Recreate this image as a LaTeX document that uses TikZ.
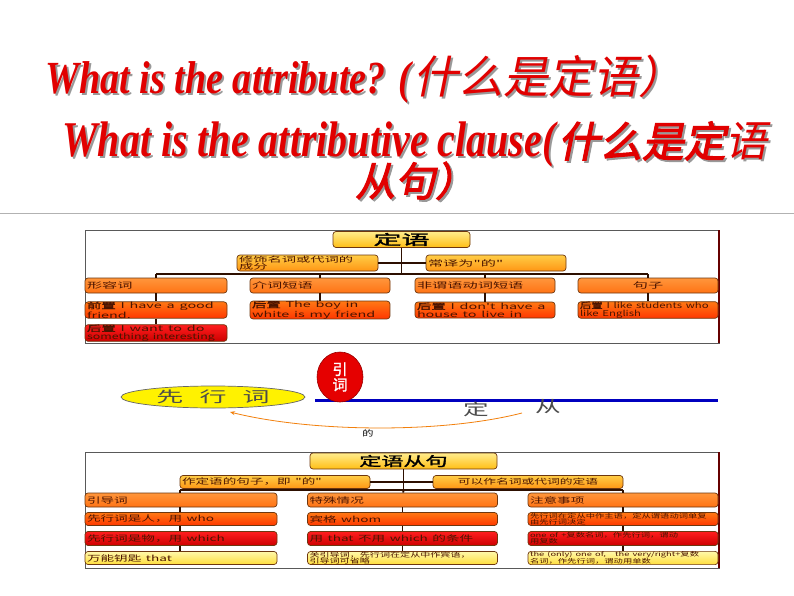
\documentclass[tikz,border=0pt]{standalone}
\usepackage{fontspec}
\setmainfont{Liberation Serif}
\newfontfamily\cjk{Noto Sans CJK SC}
\newfontfamily\cjkit[FakeSlant=0.2]{Noto Sans CJK SC}
\newfontfamily\cjkbi[FakeSlant=0.2,FakeBold=2.5]{Noto Sans CJK SC}
\newfontfamily\cjkb[FakeBold=1.5]{Noto Sans CJK SC}
\usetikzlibrary{shapes.geometric,arrows.meta}
\definecolor{titred}{RGB}{225,0,0}
\definecolor{boxbd}{RGB}{110,55,15}
\definecolor{boxtx}{RGB}{75,20,0}
\definecolor{conncol}{RGB}{45,15,0}
\definecolor{ylA}{RGB}{255,236,140}
\definecolor{ylB}{RGB}{255,190,20}
\definecolor{orA}{RGB}{255,205,70}
\definecolor{orB}{RGB}{255,150,20}
\definecolor{o3A}{RGB}{255,150,60}
\definecolor{o3B}{RGB}{255,115,20}
\definecolor{o4A}{RGB}{255,120,20}
\definecolor{o4B}{RGB}{255,55,0}
\definecolor{rdA}{RGB}{255,30,30}
\definecolor{rdB}{RGB}{205,0,0}
\definecolor{y4A}{RGB}{255,248,170}
\definecolor{y4B}{RGB}{255,222,60}
\newcommand\tx[2][1.8]{\scalebox{#1}[1]{#2}}
\newcommand\shtext[1]{\leavevmode\rlap{\kern2pt\raisebox{-2pt}{\color{black!40}#1}}#1}
\tikzset{
  title/.style={anchor=base west, inner sep=0pt, text=titred},
  bx/.style={draw=boxbd, line width=0.7pt, rounded corners=3pt, inner xsep=2pt, inner ysep=0pt, align=left, text=boxtx, font=\cjk\fontsize{8}{8}\selectfont},
  lvY/.style={bx, top color=ylA, bottom color=ylB},
  lvO/.style={bx, top color=orA, bottom color=orB},
  lv3/.style={bx, top color=o3A, bottom color=o3B},
  lv4/.style={bx, top color=o4A, bottom color=o4B},
  lvR/.style={bx, top color=rdA, bottom color=rdB},
  lvW/.style={bx, top color=y4A, bottom color=y4B},
  conn/.style={draw=conncol, line width=1.8pt},
  panel/.style={draw=black!65, line width=0.6pt},
}
\begin{document}
\begin{tikzpicture}[x=1pt,y=-1pt]
\useasboundingbox[fill=white] (0,0) rectangle (794,596);
% ---------- titles
\node[title, font=\fontsize{46}{46}\selectfont] (t1) at (45,94)
  {\shtext{\tx[0.83]{\textbf{\textit{What is the attribute? (}}}}\shtext{{\cjkit\fontsize{45}{45}\selectfont 什么是定语）}}};
\node[title, font=\fontsize{50}{50}\selectfont] (t2) at (62,157)
  {\shtext{\tx[0.8]{\textbf{\textit{What is the attributive clause(}}}}\shtext{{\cjkbi\fontsize{42}{42}\selectfont 什么是定}}\shtext{{\cjkit\fontsize{42}{42}\selectfont 语}}};
\node[title] (t3) at (355,196)
  {\shtext{{\cjkbi\fontsize{40}{40}\selectfont 从句）}}};
% ---------- separator line
\coordinate (s0) at (0,213);
\coordinate (s1) at (794,213);
\draw[draw=black!30, line width=0.6pt] (s0) -- (s1);
% ---------- top chart
\draw[panel] (85,230) rectangle (719,343);
\draw[draw=red!40!black, line width=1.2pt] (719,230) -- (719,343);
\coordinate (j0) at (401.5,274);
\coordinate (b1) at (156,274);
\coordinate (b4) at (648,274);
\node[lvY, minimum width=137pt, minimum height=16pt, align=center, text=black, font=\cjkb\fontsize{14}{14}\selectfont] (dy) at (401.5,239.5) {\tx[2]{定语}};
\node[lvO, text width=137pt, minimum height=16pt, font=\cjk\fontsize{7.5}{7.5}\selectfont] (xs) at (307.5,263) {\tx[1.9]{修饰名词或代词的}\\\tx[1.9]{成分}};
\node[lvO, text width=136pt, minimum height=16pt] (cy) at (496,263) {\tx[1.9]{常译为"的"}};
\node[lv3, text width=138pt, minimum height=15pt] (a1) at (156,285.5) {\tx[1.9]{形容词}};
\node[lv3, text width=136pt, minimum height=15pt] (a2) at (320,285.5) {\tx[1.9]{介词短语}};
\node[lv3, text width=136pt, minimum height=15pt] (a3) at (485,285.5) {\tx[1.9]{非谓语动词短语}};
\node[lv3, text width=136pt, minimum height=15pt, align=center] (a4) at (648,285.5) {\tx[1.9]{句子}};
\node[lv4, text width=138pt, minimum height=16pt] (p1) at (156,310) {\tx[1.8]{{\cjkb 前置} I have a good}\\\tx[1.8]{friend.}};
\node[lv4, text width=136pt, minimum height=16pt] (p2) at (320,310) {\tx[1.8]{{\cjkb 后置} The boy in}\\\tx[1.8]{white is my friend}};
\node[lv4, text width=136pt, minimum height=16pt] (p3) at (485,310) {\tx[1.8]{{\cjkb 后置} I don't have a}\\\tx[1.8]{house to live in}};
\node[lv4, text width=136pt, minimum height=16pt] (p4) at (648,310) {\tx[1.42]{{\cjkb 后置} I like students who}\\\tx[1.42]{like English}};
\node[lvR, text width=138pt, minimum height=16pt] (q1) at (156,333) {\tx[1.8]{{\cjkb 后置} I want to do}\\\tx[1.55]{something interesting}};
% connectors top
\draw[conn] (dy) -- (j0);
\draw[conn] (xs) -- (cy);
\draw[conn] (b1) -- (b4);
\draw[conn] (b1) -- (a1);
\draw[conn] (a2.north |- b1) -- (a2.north);
\draw[conn] (a3.north |- b1) -- (a3.north);
\draw[conn] (b4) -- (a4);
\draw[conn] (a1) -- (p1);
\draw[conn] (a2) -- (p2);
\draw[conn] (a3) -- (p3);
\draw[conn] (a4) -- (p4);
\draw[conn] (p1) -- (q1);
% ---------- middle
\coordinate (bl0) at (315,400);
\coordinate (bl1) at (718,400);
\draw[draw=blue!75!black, line width=3pt] (bl0) -- (bl1);
\node[ellipse, draw=black!60, line width=0.7pt, fill=yellow, minimum width=184pt, minimum height=22pt, inner sep=0pt, text=black!70, font=\cjk\fontsize{15}{15}\selectfont] (xx) at (213,397) {\tx[1.8]{先\hspace{9pt}行\hspace{9pt}词}};
\node[ellipse, draw=red!60!black, line width=0.6pt, fill=red!90!black, minimum width=46pt, minimum height=50pt, inner sep=0pt, align=center, text=white, font=\cjkb\fontsize{15}{15.5}\selectfont] (yd) at (340,377) {引\\词};
\node[font=\cjk\fontsize{16}{16}\selectfont, text=black!70, inner sep=0pt] (ding) at (476,409) {\tx[1.6]{定}};
\node[font=\cjk\fontsize{16}{16}\selectfont, text=black!70, inner sep=0pt] (cong) at (548,407) {\tx[1.6]{从}};
\coordinate (as) at (522,413);
\coordinate (ae) at (230,412);
\draw[draw=orange!80!brown, line width=0.8pt, -{Stealth[length=5pt,width=4pt]}] (as) .. controls (440,434) and (310,432) .. (ae);
\node[font=\cjk\fontsize{8}{8}\selectfont, inner sep=0pt] (de) at (368,433) {\tx[1.4]{的}};
% ---------- bottom chart
\draw[panel] (85,452) rectangle (719,568);
\draw[draw=red!40!black, line width=1.2pt] (719,452) -- (719,568);
\coordinate (k0) at (403.5,490);
\coordinate (c1) at (180,490);
\coordinate (c3) at (623,490);
\node[lvY, minimum width=187pt, minimum height=16pt, align=center, text=black, font=\cjkb\fontsize{13}{13}\selectfont] (dc) at (403.5,461) {\tx[1.7]{定语从句}};
\node[lvO, text width=186pt, minimum height=13pt] (zd) at (275,482) {\tx[1.7]{作定语的句子，即 "的"}};
\node[lvO, text width=186pt, minimum height=13pt, align=center, font=\cjk\fontsize{7.5}{7.5}\selectfont] (kz) at (528,482) {\tx[1.7]{可以作名词或代词的定语}};
% rows
\node[lv3, text width=188pt, minimum height=14pt] (L1) at (181,500) {\tx[1.7]{引导词}};
\node[lv3, text width=186pt, minimum height=14pt] (M1) at (402.5,500) {\tx[1.7]{特殊情况}};
\node[lv3, text width=186pt, minimum height=14pt] (R1) at (623,500) {\tx[1.7]{注意事项}};
\node[lv4, text width=188pt, minimum height=13pt] (L2) at (181,519) {\tx[1.7]{先行词是人，用 who}};
\node[lv4, text width=186pt, minimum height=13pt] (M2) at (402.5,519) {\tx[1.7]{宾格 whom}};
\node[lv4, text width=186pt, minimum height=13pt, font=\cjk\fontsize{6}{6}\selectfont] (R2) at (623,519) {\tx[1.55]{先行词在定从中作主语，定从谓语动词单复}\\\tx[1.55]{由先行词决定}};
\node[lvR, text width=188pt, minimum height=14pt] (L3) at (181,538.5) {\tx[1.7]{先行词是物，用 which}};
\node[lvR, text width=186pt, minimum height=14pt] (M3) at (402.5,538.5) {\tx[1.7]{用 that 不用 which 的条件}};
\node[lvR, text width=186pt, minimum height=14pt, font=\cjk\fontsize{6}{6}\selectfont] (R3) at (623,538.5) {\tx[1.55]{one of +复数名词，作先行词，谓动}\\\tx[1.55]{用复数}};
\node[lvW, text width=188pt, minimum height=13pt] (L4) at (181,558) {\tx[1.7]{万能钥匙 that}};
\node[lvW, text width=186pt, minimum height=13pt, font=\cjk\fontsize{6.5}{6.5}\selectfont] (M4) at (402.5,558) {\tx[1.55]{关引导词，先行词在定从中作宾语，}\\\tx[1.55]{引导词可省略}};
\node[lvW, text width=186pt, minimum height=13pt, font=\cjk\fontsize{6}{6}\selectfont] (R4) at (623,558) {\tx[1.55]{the (only) one of,\quad the very/right+复数}\\\tx[1.55]{名词，作先行词，谓动用单数}};
% connectors bottom
\draw[conn] (dc) -- (k0);
\draw[conn] (zd) -- (kz);
\draw[conn] (c1) -- (c3);
\draw[conn] (c1) -- (L1.north -| c1);
\draw[conn] (k0) -- (M1);
\draw[conn] (c3) -- (R1);
\draw[conn] (L1.south -| c1) -- (L2.north -| c1);
\draw[conn] (L2.south -| c1) -- (L3.north -| c1);
\draw[conn] (L3.south -| c1) -- (L4.north -| c1);
\draw[conn] (M1) -- (M2);
\draw[conn] (M2) -- (M3);
\draw[conn] (M3) -- (M4);
\draw[conn] (R1) -- (R2);
\draw[conn] (R2) -- (R3);
\draw[conn] (R3) -- (R4);
\end{tikzpicture}
\end{document}
